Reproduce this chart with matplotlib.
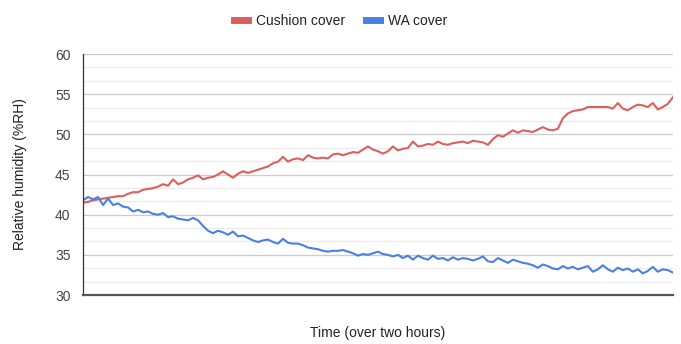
import numpy as np
import matplotlib
matplotlib.use('Agg')
import matplotlib.pyplot as plt
from matplotlib.ticker import MultipleLocator

# Lecturas aproximadas (%RH) a lo largo de dos horas
cushion_cover = [
    41.5, 41.6, 41.8, 41.9, 42.0, 42.1, 42.2, 42.3, 42.3, 42.6,
    42.8, 42.8, 43.1, 43.2, 43.3, 43.5, 43.8, 43.6, 44.4, 43.8,
    44.0, 44.4, 44.6, 44.9, 44.4, 44.6, 44.7, 45.0, 45.4, 45.0,
    44.6, 45.1, 45.4, 45.2, 45.4, 45.6, 45.8, 46.0, 46.4, 46.6,
    47.2, 46.6, 46.9, 47.0, 46.8, 47.4, 47.1, 47.0, 47.1, 47.0,
    47.5, 47.6, 47.4, 47.6, 47.8, 47.7, 48.1, 48.5, 48.1, 47.9,
    47.6, 47.9, 48.5, 48.0, 48.2, 48.3, 49.1, 48.5, 48.6, 48.8,
    48.7, 49.1, 48.8, 48.7, 48.9, 49.0, 49.1, 48.9, 49.2, 49.1,
    49.0, 48.7, 49.4, 49.9, 49.7, 50.1, 50.5, 50.2, 50.5, 50.4,
    50.3, 50.6, 50.9, 50.6, 50.5, 50.7, 52.0, 52.6, 52.9, 53.0,
    53.1, 53.4, 53.4, 53.4, 53.4, 53.4, 53.2, 53.9, 53.2, 53.0,
    53.4, 53.7, 53.6, 53.4, 53.9, 53.1, 53.4, 53.8, 54.6,
]
wa_cover = [
    41.8, 42.2, 41.9, 42.2, 41.2, 42.0, 41.2, 41.4, 41.0, 40.9,
    40.4, 40.6, 40.3, 40.4, 40.1, 40.0, 40.2, 39.7, 39.8, 39.5,
    39.4, 39.3, 39.6, 39.3, 38.6, 38.0, 37.7, 38.0, 37.8, 37.5,
    37.9, 37.3, 37.4, 37.1, 36.8, 36.6, 36.8, 36.9, 36.6, 36.4,
    37.0, 36.5, 36.4, 36.4, 36.2, 35.9, 35.8, 35.7, 35.5, 35.4,
    35.5, 35.5, 35.6, 35.4, 35.2, 34.9, 35.1, 35.0, 35.2, 35.4,
    35.1, 35.0, 34.8, 35.0, 34.6, 34.9, 34.4, 34.9, 34.6, 34.4,
    34.9, 34.5, 34.6, 34.3, 34.7, 34.4, 34.6, 34.5, 34.3, 34.5,
    34.8, 34.2, 34.1, 34.6, 34.3, 34.0, 34.4, 34.2, 34.0, 33.9,
    33.7, 33.4, 33.8, 33.6, 33.3, 33.2, 33.6, 33.3, 33.5, 33.2,
    33.4, 33.6, 32.9, 33.2, 33.7, 33.2, 32.9, 33.4, 33.1, 33.3,
    32.9, 33.2, 32.7, 33.0, 33.5, 32.9, 33.2, 33.1, 32.8,
]
series_names = ['Cushion cover', 'WA cover']
series_colors = ['#dc5f5c', '#4a80e2']

plt.rcParams['font.family'] = ['Liberation Sans', 'DejaVu Sans']

fig = plt.figure(figsize=(6.81, 3.44), dpi=100)
ax = fig.add_axes([0.122, 0.1424, 0.866, 0.7006])

for vals, name, col in zip([cushion_cover, wa_cover], series_names, series_colors):
    ax.plot(np.arange(len(vals)), vals, color=col, lw=1.5, label=name)

ax.set_xlim(0, len(cushion_cover) - 1)
ax.set_ylim(30, 60)
ax.yaxis.set_major_locator(MultipleLocator(5))
ax.yaxis.set_minor_locator(MultipleLocator(5 / 3))
ax.grid(which='major', axis='y', color='#cccccc', lw=0.9)
ax.grid(which='minor', axis='y', color='#ebebeb', lw=0.9)
ax.set_axisbelow(True)
ax.set_xticks([])
ax.tick_params(axis='y', which='both', length=0, labelsize=10, labelcolor='#444444', pad=9)

for s in ['top', 'right']:
    ax.spines[s].set_visible(False)
ax.spines['left'].set_color('#333333')
ax.spines['left'].set_linewidth(0.9)
ax.spines['bottom'].set_color('#555555')
ax.spines['bottom'].set_linewidth(1.6)

ax.set_ylabel('Relative humidity (%RH)', fontsize=10, color='#222222', labelpad=20)
ax.set_xlabel('Time (over two hours)', fontsize=10, color='#222222', labelpad=22)

fig.legend(loc='center', bbox_to_anchor=(0.5, 0.94), ncol=2, frameon=False,
           fontsize=10, handlelength=1.0, handleheight=0.5, columnspacing=1.5,
           handletextpad=0.6, labelcolor='#222222')
for line in fig.legends[0].get_lines():
    line.set_linewidth(5)

fig.savefig('out.png', dpi=100)
